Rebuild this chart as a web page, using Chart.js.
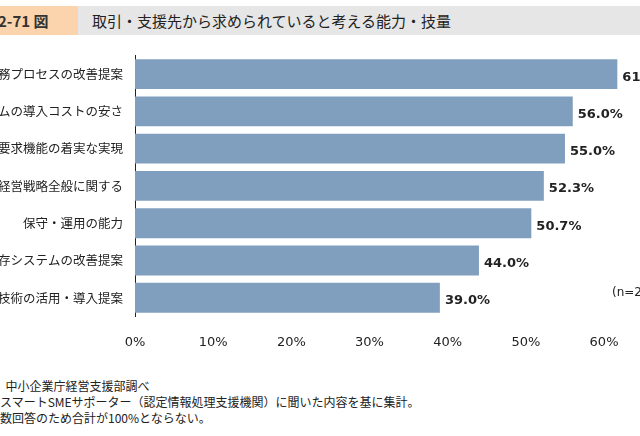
<!DOCTYPE html><html><head><meta charset="utf-8">
<script src="https://cdn.jsdelivr.net/npm/chart.js@4"></script>
<style>
body{margin:0;width:640px;height:436px;overflow:hidden;background:#fff;font-family:"Noto Sans CJK JP",sans-serif;position:relative}
#t1{position:absolute;left:0;top:6px;width:78px;height:29px;background:#fbd3ad;font:bold 15px "Noto Sans CJK JP";line-height:29px;color:#333;}
#t2{position:absolute;left:78px;top:6px;width:562px;height:29px;background:#e6e6e6;font:15px "Noto Sans CJK JP";line-height:29px;color:#222;padding-left:14px;box-sizing:border-box}
#c{position:absolute;left:0;top:44px}
#n{position:absolute;left:612px;top:285px;font:12px "DejaVu Sans";color:#222;white-space:nowrap}
#f{position:absolute;left:0;top:378px;font:12px "Noto Sans CJK JP";line-height:16px;color:#222;white-space:nowrap}
</style></head><body>
<div id="t1"><span style="margin-left:-2px">2-71</span> 図</div>
<div id="t2">取引・支援先から求められていると考える能力・技量</div>
<canvas id="c" width="640" height="316"></canvas>
<div id="n">(n=2</div>
<div id="f">&nbsp;&nbsp;中小企業庁経営支援部調べ<br>スマートSMEサポーター（認定情報処理支援機関）に聞いた内容を基に集計。<br>数回答のため合計が100%とならない。</div>
<script>
const categories=["業務プロセスの改善提案","システムの導入コストの安さ","要求機能の着実な実現","IT化を含めた経営戦略全般に関する","保守・運用の能力","既存システムの改善提案","新しい技術の活用・導入提案"];
const values=[61.7,56.0,55.0,52.3,50.7,44.0,39.0];
const tickValues=[0,10,20,30,40,50,60];
const valLabels={id:'vl',afterDatasetsDraw(ch){const c=ch.ctx;const m=ch.getDatasetMeta(0);c.save();c.font='bold 13px "DejaVu Sans"';c.fillStyle='#222';c.textBaseline='middle';m.data.forEach((b,i)=>{c.fillText(values[i].toFixed(1)+'%',b.x+5,b.y+3);});c.restore();}};
new Chart(document.getElementById('c'),{type:'bar',data:{labels:categories,datasets:[{data:values,backgroundColor:'#809fbf',barPercentage:0.8,categoryPercentage:1}]},
options:{indexAxis:'y',responsive:false,animation:false,layout:{padding:{top:8,bottom:0,right:0}},plugins:{legend:{display:false},tooltip:{enabled:false}},
scales:{x:{min:0,max:64.6,grid:{display:false},border:{display:false},afterBuildTicks(a){a.ticks=tickValues.map(v=>({value:v}));},ticks:{color:'#222',font:{size:13,family:'DejaVu Sans'},callback:v=>v+'%',padding:10}},
y:{afterFit(a){a.width=135;},grid:{display:false},border:{color:'#222',width:1},ticks:{color:'#222',font:{size:12.5,family:'Noto Sans CJK JP'},padding:4}}}},plugins:[valLabels]});
</script></body></html>
